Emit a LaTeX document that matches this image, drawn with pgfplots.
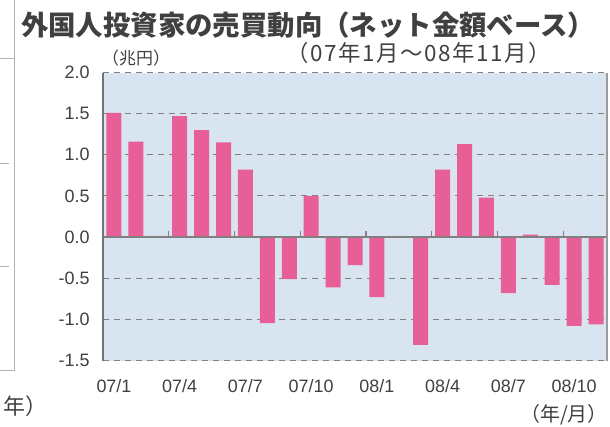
\documentclass[border=0pt]{standalone}
\usepackage{pgfplots}
\pgfplotsset{compat=1.18}
\usepackage{fontspec}
\setmainfont{Liberation Sans}
\newfontfamily\cjk{Noto Sans CJK JP}
\newfontfamily\cjksp[LetterSpace=7]{Noto Sans CJK JP}
\definecolor{bgblue}{HTML}{D9E4F1}
\definecolor{barpink}{HTML}{E85F97}
\definecolor{txt}{HTML}{404040}
\definecolor{gridc}{HTML}{808080}
\begin{document}
\begin{tikzpicture}[x=1bp,y=1bp]
\useasboundingbox (0,0) rectangle (610,-426);
\begin{axis}[
  at={(103bp,-360.5bp)}, anchor=south west,
  scale only axis, width=504bp, height=288bp,
  xmin=0.5, xmax=23.5, ymin=-1.5, ymax=2.0,
  axis line style={draw=none},
  axis background/.style={fill=bgblue},
  ybar, bar width=15bp, bar shift=0pt,
  ytick={-1.5,-1.0,-0.5,0,0.5,1.0,1.5,2.0},
  yticklabels={-1.5,-1.0,-0.5,0.0,0.5,1.0,1.5,2.0},
  xtick={1,4,7,10,13,16,19,22},
  xticklabels={07/1,07/4,07/7,07/10,08/1,08/4,08/7,08/10},
  major tick length=0pt,
  ymajorgrids,
  grid style={gridc, dash pattern=on 6bp off 5bp, line width=0.9bp},
  tick label style={font=\fontsize{18}{18}\selectfont, text=txt},
  yticklabel style={xshift=-10bp},
  xticklabel style={yshift=-15bp},
  clip=false,
]
\addplot[fill=barpink, draw=none] coordinates {
 (1,1.51) (2,1.16) (3,0.01) (4,1.47) (5,1.30) (6,1.15) (7,0.82) (8,-1.045)
 (9,-0.51) (10,0.50) (11,-0.61) (12,-0.34) (13,-0.73) (14,0.0) (15,-1.31)
 (16,0.82) (17,1.13) (18,0.48) (19,-0.68) (20,0.03) (21,-0.58) (22,-1.08) (23,-1.06)
};
\draw[gridc, line width=1.6bp] (axis cs:0.5,0) -- (axis cs:23.5,0);
\pgfplotsinvokeforeach{3.5,6.5,9.5,12.5,15.5,18.5,21.5}{
  \draw[gridc, line width=1.2bp] (axis cs:#1,0) -- (axis cs:#1,0.075);
}
\draw[gridc!90!black, line width=1.3bp] (axis cs:0.5,-1.5) -- (axis cs:0.5,2.0);
\draw[gridc!80, line width=1.1bp] (axis cs:23.5,-1.5) -- (axis cs:23.5,2.0);
\end{axis}
% artifacts of neighbouring panel
\draw[gray!60, line width=0.9bp] (14,0) -- (14,-370) -- (0,-370);
\draw[gray!60, line width=0.9bp] (0,-58) -- (14,-58);
\draw[gray!60, line width=0.9bp] (0,-163) -- (9,-163);
\draw[gray!60, line width=0.9bp] (0,-266) -- (9,-266);
\node[anchor=west, inner sep=0, text=txt, font=\cjk\fontsize{22}{22}\selectfont] at (3,-406) {年）};
% titles
\node[anchor=west, inner sep=0, text=txt, font=\cjk\bfseries\fontsize{27.5}{27.5}\selectfont] at (21,-25) {外国人投資家の売買動向（ネット金額ベース）};
\node[anchor=west, inner sep=0, text=txt, font=\cjksp\fontsize{22.5}{22.5}\selectfont] at (286,-53) {（07年1月～08年11月）};
\node[anchor=west, inner sep=0, text=txt, font=\cjk\fontsize{17}{17}\selectfont] at (102,-58) {（兆円）};
\node[anchor=east, inner sep=0, text=txt, font=\cjk\fontsize{20}{20}\selectfont] at (608,-415) {（年/月）};
\end{tikzpicture}
\end{document}
